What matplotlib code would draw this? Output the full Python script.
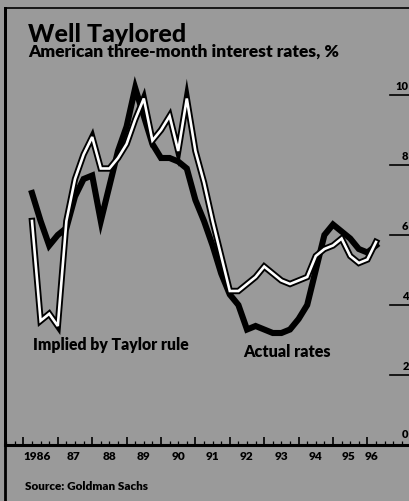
import matplotlib

matplotlib.use("Agg")
import matplotlib.pyplot as plt
import matplotlib.patheffects as pe
from matplotlib.transforms import blended_transform_factory
import numpy as np

# quarterly observations, 1986Q2 .. 1996Q2 (decimal year of each point)
START = 1986.25
STEP = 0.25

ACTUAL = [7.2, 6.4, 5.7, 6.0, 6.2, 7.1, 7.6, 7.7, 6.4, 7.4, 8.4, 9.1, 10.2,
          9.4, 8.6, 8.2, 8.2, 8.1, 7.9, 7.0, 6.4, 5.7, 4.9, 4.3, 4.0, 3.3,
          3.4, 3.3, 3.2, 3.2, 3.3, 3.6, 4.0, 5.0, 6.0, 6.3, 6.1, 5.9, 5.6,
          5.5, 5.7]
TAYLOR = [6.4, 3.55, 3.75, 3.4, 6.4, 7.6, 8.3, 8.8, 7.9, 7.9, 8.2, 8.6, 9.3,
          9.9, 8.7, 9.0, 9.4, 8.4, 9.9, 8.4, 7.5, 6.4, 5.4, 4.4, 4.4, 4.6,
          4.8, 5.1, 4.9, 4.7, 4.6, 4.7, 4.8, 5.4, 5.6, 5.7, 5.9, 5.4, 5.2,
          5.3, 5.8]

YEAR_LABELS = ["1986", "87", "88", "89", "90", "91", "92", "93", "94", "95", "96"]
YEAR_POS = [1986.4, 1987.45, 1988.5, 1989.5, 1990.5, 1991.5, 1992.5, 1993.5,
            1994.5, 1995.45, 1996.12]
Y_TICKS = [2, 4, 6, 8, 10]

BG = "#9a9a9a"
W, H = 409, 501


def fx(px):
    return px / W


def fy(py):
    return 1 - py / H


fig = plt.figure(figsize=(W / 100, H / 100), dpi=100, facecolor=BG)

# axes: left border at x=5, baseline at y=445, top border at y=8
ax = fig.add_axes([fx(5), fy(445), fx(404), (445 - 8) / H])
ax.set_facecolor("none")
px_per_year = 34.4
x0 = START - (32 - 5) / px_per_year
x1 = START + (409 - 32) / px_per_year
ax.set_xlim(x0, x1)
ax.set_ylim(0, 437 / 35)

t = START + STEP * np.arange(len(ACTUAL))
ax.plot(t, ACTUAL, color="black", linewidth=4.4, solid_joinstyle="miter",
        zorder=3)
ax.plot(t, TAYLOR, color="white", linewidth=1.9, solid_joinstyle="miter",
        zorder=4,
        path_effects=[pe.Stroke(linewidth=4.6, foreground="black"), pe.Normal()])

for s in ["right", "top"]:
    ax.spines[s].set_visible(False)
ax.spines["left"].set_linewidth(2.0)
ax.spines["bottom"].set_linewidth(2.2)
ax.set_yticks([])

# x ticks: year boundaries and quarters, pointing up
ax.set_xticks(np.arange(1986, 1997))
ax.set_xticks(np.arange(1985.5, 1997.25, 0.25), minor=True)
ax.tick_params(axis="x", which="major", direction="in", length=6, width=1.2,
               labelbottom=False)
ax.tick_params(axis="x", which="minor", direction="in", length=3, width=0.9)

for lab, pos in zip(YEAR_LABELS, YEAR_POS):
    ax.text(pos, -0.34, lab, ha="center", va="center", fontsize=8.5,
            fontweight="heavy", family="Lato", color="black")

# right-hand scale
tr = blended_transform_factory(ax.transAxes, ax.transData)
for v in Y_TICKS:
    ax.plot([0.952, 1.0], [v, v], transform=tr, color="black", linewidth=1.2,
            clip_on=False)
    ax.text(0.999, v + 0.08, str(v), transform=tr, ha="right", va="bottom",
            fontsize=8, fontweight="heavy", family="Lato")
ax.text(0.999, 0.15, "0", transform=tr, ha="right", va="bottom",
        fontsize=8, fontweight="heavy", family="Lato")

# series labels
ax.text(1986.28, 2.85, "Implied by Taylor rule", ha="left", va="center",
        fontsize=11.3, fontweight="heavy", family="Lato", color="black")
ax.text(1992.4, 2.65, "Actual rates", ha="left", va="center",
        fontsize=11.6, fontweight="heavy", family="Lato", color="black")

# frame lines of the panel
fig.add_artist(plt.Line2D([fx(5), 1], [fy(8), fy(8)], color="black",
                          linewidth=1.2))
fig.add_artist(plt.Line2D([fx(5), fx(5)], [fy(8), 0], color="black",
                          linewidth=2.0))

fig.text(fx(28), fy(42), "Well Taylored", ha="left", va="baseline",
         fontsize=18, fontweight="black", family="Lato", color="black")
fig.text(fx(28), fy(57), "American three-month interest rates, %", ha="left",
         va="baseline", fontsize=12.5, fontweight="heavy", family="Lato",
         color="black")
fig.text(fx(25), fy(486), "Source: Goldman Sachs", ha="left", va="center",
         fontsize=8.5, fontweight="heavy", family="Lato", color="black")

fig.savefig("out.png", dpi=100, facecolor=BG)
